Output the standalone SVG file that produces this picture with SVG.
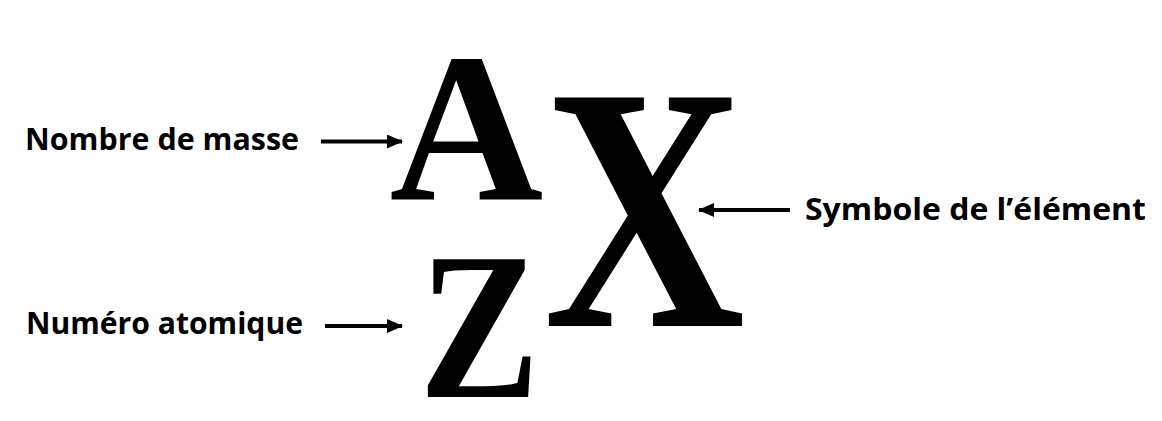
<svg xmlns="http://www.w3.org/2000/svg" width="1162" height="421" viewBox="0 0 1162 421">
<defs>
<style>
.lbl{font-family:"Open Sans","Noto Sans",sans-serif;font-weight:bold;font-size:30px;fill:#000}
.sym{font-family:"Liberation Serif","Times New Roman",serif;font-weight:bold;fill:#000;text-anchor:middle}
.arr{stroke:#000;stroke-width:4;fill:none}
</style>
<marker id="ah" viewBox="0 0 16 14" refX="15" refY="7" markerWidth="16" markerHeight="14" markerUnits="userSpaceOnUse" orient="auto">
<path d="M0,0 L16,7 L0,14 Z" fill="#000"/>
</marker>
</defs>
<rect width="1162" height="421" fill="#fff"/>
<g id="symbol-A"><text class="sym" font-size="213" transform="translate(466.5,199)">A</text></g>
<g id="symbol-Z"><text class="sym" font-size="210" transform="translate(479.5,397) scale(0.86,1)">Z</text></g>
<g id="symbol-X"><text class="sym" font-size="349" transform="translate(644.5,326) scale(0.8,1)">X</text></g>
<g id="label-masse"><text class="lbl" x="25" y="150" textLength="274" lengthAdjust="spacingAndGlyphs">Nombre de masse</text></g>
<g id="label-numero"><text class="lbl" x="26" y="334" textLength="277" lengthAdjust="spacingAndGlyphs">Numéro atomique</text></g>
<g id="label-symbole"><text class="lbl" x="805" y="220" textLength="341" lengthAdjust="spacingAndGlyphs">Symbole de l’élément</text></g>
<g id="connectors">
<line class="arr" x1="321" y1="141.5" x2="402" y2="141.5" marker-end="url(#ah)"/>
<line class="arr" x1="325" y1="326" x2="402" y2="326" marker-end="url(#ah)"/>
<line class="arr" x1="790" y1="210" x2="699" y2="210" marker-end="url(#ah)"/>
</g>
</svg>
